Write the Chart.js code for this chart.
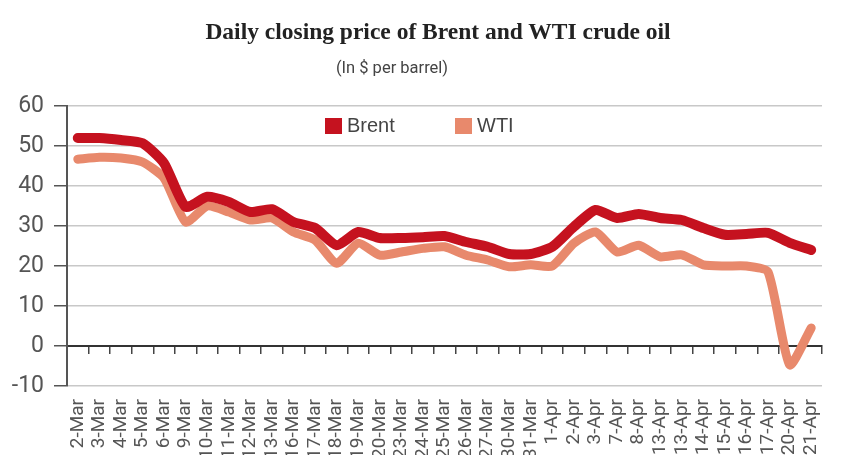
<!DOCTYPE html>
<html>
<head>
<meta charset="utf-8">
<script src="https://cdn.jsdelivr.net/npm/chart.js@4"></script>
<style>
  html, body { margin: 0; padding: 0; background: #fff; overflow: hidden; }
  #wrap { position: relative; width: 847px; height: 455px; }
  #title {
    position: absolute; top: 18px; left: 438px; transform: translateX(-50%);
    font: bold 23.5px 'Liberation Serif', 'DejaVu Serif', serif; color: #222; white-space: nowrap;
  }
  #subtitle {
    position: absolute; top: 58px; left: 392px; transform: translateX(-50%);
    font: 16.5px Roboto, 'Liberation Sans', sans-serif; color: #444; white-space: nowrap;
  }
  #legend { position: absolute; top: 114px; left: 325px; }
  .item { position: absolute; top: 0; display: flex; align-items: center; white-space: nowrap;
    font: 20px 'Liberation Sans', Roboto, sans-serif; color: #444; }
  .box { width: 17px; height: 16px; margin-right: 5px; }
</style>
</head>
<body>
<div id="wrap">
  <canvas id="myChart" width="847" height="455"></canvas>
  <div id="title">Daily closing price of Brent and WTI crude oil</div>
  <div id="subtitle">(In $ per barrel)</div>
  <div id="legend"></div>
</div>
<script>
const days = ['2-Mar', '3-Mar', '4-Mar', '5-Mar', '6-Mar', '9-Mar', '10-Mar', '11-Mar', '12-Mar', '13-Mar',
  '16-Mar', '17-Mar', '18-Mar', '19-Mar', '20-Mar', '23-Mar', '24-Mar', '25-Mar', '26-Mar', '27-Mar',
  '30-Mar', '31-Mar', '1-Apr', '2-Apr', '3-Apr', '7-Apr', '8-Apr', '13-Apr', '13-Apr', '14-Apr',
  '15-Apr', '16-Apr', '17-Apr', '20-Apr', '21-Apr'];

const brent = [52, 52, 51.5, 50.7, 45.7, 34.8, 37.3, 36, 33.5, 34.2,
  31, 29.5, 25.2, 28.5, 27, 27, 27.2, 27.5, 26, 24.8,
  23, 23, 24.8, 29.8, 34, 32, 33, 32, 31.5, 29.5,
  27.8, 28, 28.3, 25.8, 24];

const wti = [46.7, 47.2, 47, 46, 42, 31, 35, 33.5, 31.5, 32,
  28.5, 26.5, 20.7, 25.7, 22.7, 23.5, 24.4, 24.8, 22.7, 21.5,
  19.8, 20.3, 20, 25.7, 28.5, 23.5, 25.2, 22.3, 22.8, 20.3,
  20, 20, 18.5, -4.7, 4.5];

const yTicks = [-10, 0, 10, 20, 30, 40, 50, 60];

const brentColor = '#c5121f';
const wtiColor = '#e8896c';

const ctx = document.getElementById('myChart');

const chart = new Chart(ctx, {
  type: 'line',
  data: {
    labels: days,
    datasets: [
      {
        label: 'Brent',
        data: brent,
        borderColor: brentColor,
        backgroundColor: brentColor,
        borderWidth: 10,
        order: 0
      },
      {
        label: 'WTI',
        data: wti,
        borderColor: wtiColor,
        backgroundColor: wtiColor,
        borderWidth: 9,
        order: 1
      }
    ]
  },
  options: {
    responsive: false,
    animation: false,
    layout: {
      padding: { top: 106, right: 0, left: 0, bottom: 0 }
    },
    elements: {
      point: { radius: 0 },
      line: { tension: 0.2, borderJoinStyle: 'round', borderCapStyle: 'round' }
    },
    scales: {
      x: {
        offset: true,
        grid: { display: false, drawTicks: false },
        border: { display: false },
        ticks: {
          color: '#555',
          font: { family: 'Roboto, "Liberation Sans", sans-serif', size: 19 },
          minRotation: 90,
          maxRotation: 90,
          autoSkip: false,
          padding: 13
        },
        afterFit: (scale) => { scale.height = 69; }
      },
      // zero line with the small ticks between days
      x2: {
        type: 'category',
        axis: 'x',
        position: { y: 0 },
        offset: true,
        grid: {
          offset: true,
          drawOnChartArea: false,
          drawTicks: true,
          tickLength: 7,
          color: '#444',
          tickColor: '#444',
          lineWidth: 1.5
        },
        border: { display: true, color: '#333', width: 2 },
        ticks: { display: false }
      },
      y: {
        min: -10,
        max: 60,
        afterBuildTicks: (scale) => { scale.ticks = yTicks.map(v => ({ value: v })); },
        ticks: {
          color: '#555',
          font: { family: 'Roboto, "Liberation Sans", sans-serif', size: 23 },
          padding: 10
        },
        grid: {
          color: '#c8c8c8',
          tickColor: '#555',
          lineWidth: 1.5,
          tickLength: 13
        },
        border: { color: '#555', width: 2 },
        afterFit: (scale) => { scale.width = 67; }
      }
    },
    plugins: {
      legend: { display: false },
      tooltip: { enabled: false }
    }
  }
});

// legend as html text, built from the datasets
const legendEl = document.getElementById('legend');
const legendX = [0, 130];
chart.data.datasets.forEach((ds, i) => {
  const item = document.createElement('div');
  item.className = 'item';
  item.style.left = legendX[i] + 'px';
  item.innerHTML = '<span class="box" style="background:' + ds.borderColor + '"></span>' + ds.label;
  legendEl.appendChild(item);
});
</script>
</body>
</html>
